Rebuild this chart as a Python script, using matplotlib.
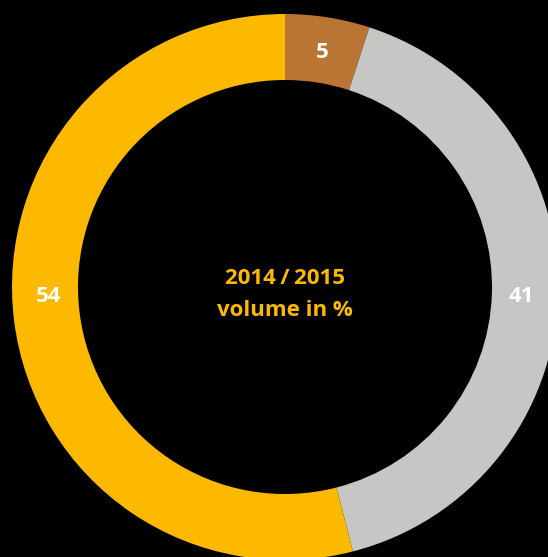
import matplotlib.pyplot as plt
import numpy as np

# data
labels = ["5", "41", "54"]
values = [5, 41, 54]
colors = ["#BA7433", "#C6C7C5", "#FDB900"]
title_lines = ["2014\u2009/\u20092015", "volume in %"]

W, H = 548, 557
fig = plt.figure(figsize=(W / 100, H / 100), dpi=100, facecolor="black")
ax = fig.add_axes([0, 0, 1, 1])
ax.set_facecolor("black")

cx, cy = 285, H - 287
r_out, r_in = 273, 207

wedges, _ = ax.pie(
    values,
    colors=colors,
    startangle=90,
    counterclock=False,
    center=(cx, cy),
    radius=r_out,
    wedgeprops=dict(width=r_out - r_in, linewidth=0),
    frame=True,
)
ax.set_xlim(0, W)
ax.set_ylim(0, H)
ax.set_aspect("equal")
ax.axis("off")

# labels sit mid-ring; the large slices are pulled toward the horizontal
r_lab = 237
for w, lab in zip(wedges, labels):
    ang = (w.theta1 + w.theta2) / 2
    if abs(np.cos(np.deg2rad(ang))) > 0.9:
        ang = 180 + 2.2 if np.cos(np.deg2rad(ang)) < 0 else -2.2
    a = np.deg2rad(ang)
    ax.text(cx + r_lab * np.cos(a), cy + r_lab * np.sin(a), lab,
            color="white", fontsize=16, fontweight="bold",
            family="Open Sans", ha="center", va="center")

ax.text(cx, H - 278, title_lines[0], color="#FDB900", fontsize=16,
        fontweight="bold", family="Open Sans", ha="center", va="center")
ax.text(cx, H - 310, title_lines[1], color="#FDB900", fontsize=16,
        fontweight="bold", family="Open Sans", ha="center", va="center")

fig.savefig("out.png", dpi=100, facecolor="black")
